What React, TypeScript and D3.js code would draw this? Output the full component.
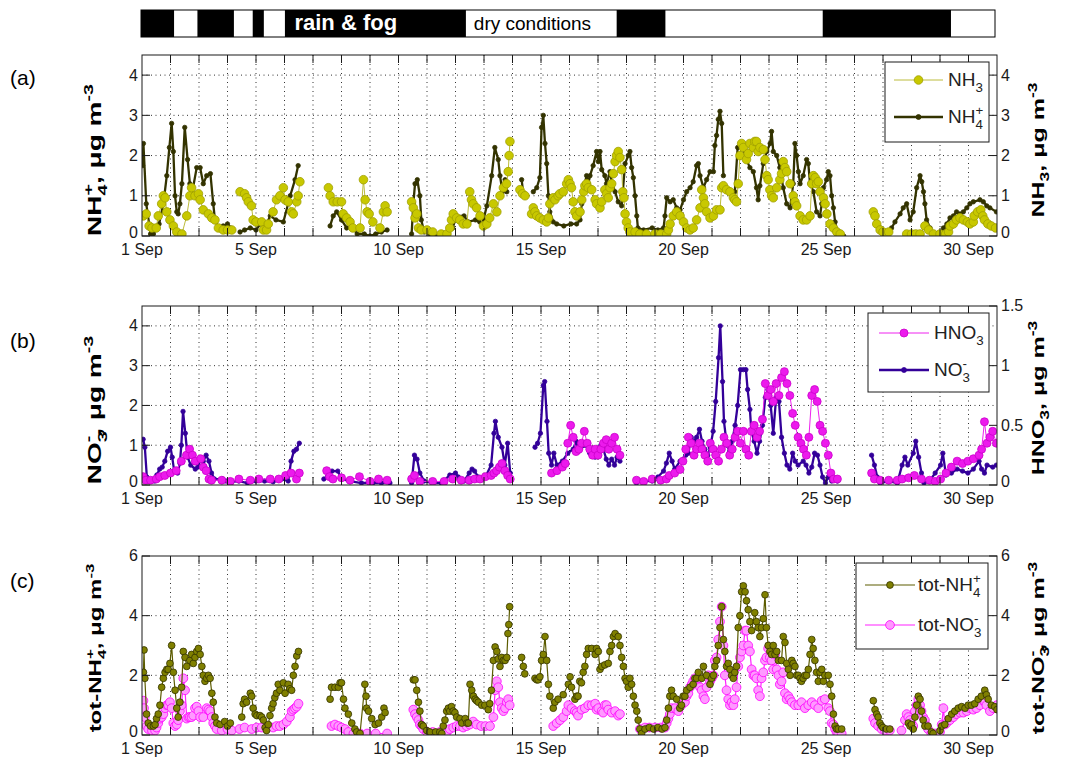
import { useEffect, useRef } from 'react';
import * as d3 from 'd3';

type Pt = [number, number];
type Part = [string, string];

// days since 1 Sep 00:00
const dayTicks = [0, 4, 9, 14, 19, 24, 29];
const dayLabels = ['1 Sep', '5 Sep', '10 Sep', '15 Sep', '20 Sep', '25 Sep', '30 Sep'];

// weather bar: black (rain & fog) periods, days
const wetPeriods: Pt[] = [[0, 1.16], [1.98, 3.26], [3.92, 4.31], [5.05, 11.4], [16.69, 18.4], [23.92, 28.42]];
const barLabels: [string, number, boolean][] = [['rain & fog', 7.15, true], ['dry conditions', 13.7, false]];

// panel (a)
const nh4: Pt[] = [[0.02,1.75],[0.05,2.3],[0.15,0.8],[0.3,0.05],[0.4,0.05],[0.6,0.3],[0.75,0.8],[0.87,1.5],[0.96,2.2],[1.04,2.8],[1.1,2.1],[1.16,1.0],[1.22,0.6],[1.27,0.55],[1.33,0.8],[1.4,1.3],[1.5,2.7],[1.6,1.9],[1.68,1.3],[1.74,1.0],[1.92,1.7],[2.04,1.7],[2.15,1.3],[2.27,1.5],[2.4,1.55],[2.5,0.8],[2.56,0.4],[2.68,0.2],[2.85,0.25],[3.0,0.3],[3.1,0.2],[3.28,NaN],[3.44,0.1],[3.6,0.15],[3.8,0.2],[4.0,0.15],[4.15,0.3],[4.3,0.2],[4.5,0.5],[4.7,0.4],[4.96,0.35],[5.2,1.0],[5.37,1.4],[5.48,1.75],[6.0,NaN],[6.6,0.25],[6.71,0.5],[6.83,0.6],[7.0,0.4],[7.18,0.2],[7.4,0.2],[7.55,0.05],[7.8,0.05],[8.0,0.0],[8.2,0.05],[8.4,0.1],[8.6,0.15],[9.0,NaN],[9.46,0.05],[9.52,0.8],[9.58,1.3],[9.66,1.4],[9.75,1.0],[9.8,0.4],[9.9,0.1],[10.1,0.05],[10.4,0.0],[10.7,0.05],[10.9,0.2],[11.04,0.5],[11.3,0.5],[11.45,0.35],[11.7,0.4],[11.85,0.35],[11.98,0.4],[12.1,0.75],[12.27,1.5],[12.38,2.2],[12.5,1.9],[12.56,1.5],[12.65,1.1],[12.74,1.4],[12.8,1.1],[13.0,NaN],[13.32,1.4],[13.38,1.05],[13.5,NaN],[13.73,1.1],[13.85,1.2],[13.96,1.45],[14.02,2.7],[14.08,3.0],[14.14,2.3],[14.2,1.8],[14.26,1.0],[14.31,0.6],[14.43,0.35],[14.55,0.3],[14.8,0.25],[15.05,0.3],[15.25,0.3],[15.37,0.4],[15.43,0.8],[15.5,1.2],[15.6,1.5],[15.66,1.3],[15.72,1.5],[15.83,1.75],[15.95,2.1],[16.01,1.85],[16.07,2.1],[16.13,1.65],[16.24,1.5],[16.3,1.3],[16.42,1.6],[16.48,1.35],[16.6,1.1],[16.71,0.85],[16.83,0.75],[16.95,1.8],[17.06,2.0],[17.12,2.1],[17.18,1.7],[17.24,1.45],[17.3,1.0],[17.36,0.5],[17.4,0.2],[17.6,0.15],[17.9,0.2],[18.1,0.15],[18.3,0.2],[18.35,0.5],[18.41,0.95],[18.53,0.85],[18.64,0.9],[18.76,0.7],[18.88,0.65],[19.0,0.9],[19.11,1.1],[19.23,1.2],[19.34,1.35],[19.46,1.75],[19.52,1.8],[19.58,1.5],[19.7,1.2],[19.81,1.4],[19.93,1.6],[20.05,1.6],[20.1,2.25],[20.16,2.5],[20.22,2.9],[20.28,3.1],[20.34,2.8],[20.4,1.5],[20.6,NaN],[20.8,1.1],[20.9,2.2],[21.04,2.3],[21.21,1.9],[21.33,1.7],[21.45,1.6],[21.56,1.2],[21.62,0.9],[21.68,1.25],[21.8,1.8],[21.92,2.1],[22.04,2.3],[22.09,2.6],[22.15,2.1],[22.27,2.0],[22.38,1.7],[22.5,1.2],[22.62,0.8],[22.74,0.7],[22.85,1.3],[22.91,2.3],[22.97,2.0],[23.03,1.6],[23.09,1.3],[23.2,1.5],[23.32,1.9],[23.38,1.8],[23.44,1.3],[23.56,1.1],[23.67,0.6],[23.79,0.5],[23.85,0.8],[23.91,1.2],[24.02,1.4],[24.08,1.6],[24.14,1.5],[24.2,1.0],[24.26,0.7],[24.32,0.35],[24.38,0.15],[24.5,0.05],[24.62,0.0],[25.0,NaN],[25.66,0.5],[25.78,0.35],[25.9,0.2],[26.0,0.1],[26.2,0.1],[26.3,0.2],[26.42,0.35],[26.6,0.55],[26.71,0.7],[26.83,0.8],[26.95,0.4],[27.06,0.6],[27.18,1.2],[27.3,1.5],[27.36,1.35],[27.42,1.1],[27.47,0.8],[27.53,0.4],[27.65,0.2],[27.8,NaN],[28.0,0.05],[28.12,0.2],[28.24,0.3],[28.35,0.45],[28.47,0.5],[28.58,0.6],[28.7,0.55],[28.82,0.6],[28.94,0.7],[29.05,0.8],[29.17,0.85],[29.4,0.9],[29.52,0.85],[29.64,0.75],[29.75,0.7],[29.98,0.6]];

const nh3: Pt[] = [[0.05,0.5],[0.15,0.55],[0.25,0.25],[0.35,0.2],[0.5,0.2],[0.57,0.5],[0.69,0.8],[0.75,1.0],[0.81,0.95],[0.87,0.6],[0.98,0.4],[1.1,0.25],[1.22,0.1],[1.4,0.05],[1.57,0.5],[1.68,1.0],[1.74,1.2],[1.86,1.0],[1.98,1.05],[2.04,0.9],[2.15,0.65],[2.33,0.55],[2.45,0.45],[2.56,0.4],[2.68,0.2],[2.85,0.15],[3.0,0.15],[3.15,0.15],[3.3,NaN],[3.44,1.1],[3.6,1.05],[3.67,0.95],[3.73,0.85],[3.84,0.75],[3.9,0.4],[4.0,0.35],[4.2,0.35],[4.26,0.15],[4.37,0.15],[4.43,0.3],[4.6,0.6],[4.72,0.9],[4.84,1.0],[4.96,1.2],[5.02,0.9],[5.13,0.85],[5.25,0.6],[5.31,0.55],[5.43,0.85],[5.48,1.0],[5.54,1.35],[6.0,NaN],[6.54,1.2],[6.6,1.0],[6.71,0.85],[6.85,0.85],[7.0,0.85],[7.06,0.55],[7.18,0.45],[7.3,0.35],[7.4,0.2],[7.65,0.2],[7.77,1.4],[7.83,0.9],[7.9,0.6],[7.97,0.55],[8.1,0.35],[8.35,0.2],[8.47,0.6],[8.53,0.75],[8.6,0.6],[9.0,NaN],[9.46,0.85],[9.52,0.7],[9.58,0.45],[9.64,0.55],[9.7,0.2],[9.8,0.15],[10.0,0.15],[10.2,0.1],[10.5,0.05],[10.7,0.05],[10.8,0.2],[10.86,0.4],[10.92,0.55],[11.04,0.45],[11.15,0.4],[11.27,0.3],[11.4,0.3],[11.5,1.1],[11.56,0.9],[11.62,0.8],[11.74,0.7],[11.86,0.5],[11.98,0.25],[12.1,0.3],[12.2,0.45],[12.33,0.8],[12.45,0.6],[12.56,1.0],[12.68,1.2],[12.79,1.3],[12.85,1.6],[12.88,2.0],[12.91,2.35],[13.1,NaN],[13.26,1.15],[13.35,1.05],[13.44,1.0],[13.55,NaN],[13.67,0.55],[13.73,0.7],[13.79,0.6],[13.85,0.5],[13.96,0.45],[14.08,0.4],[14.2,0.35],[14.26,0.45],[14.31,0.8],[14.43,0.95],[14.49,0.9],[14.6,1.0],[14.66,1.05],[14.78,1.1],[14.9,1.3],[14.96,1.4],[15.02,1.3],[15.07,1.2],[15.13,0.85],[15.19,0.6],[15.25,0.5],[15.37,0.6],[15.43,0.9],[15.5,1.1],[15.54,1.25],[15.6,1.3],[15.66,1.2],[15.78,1.15],[15.9,0.9],[15.95,0.8],[16.07,0.7],[16.13,0.85],[16.24,1.15],[16.3,1.05],[16.36,0.95],[16.42,1.2],[16.48,1.3],[16.54,1.55],[16.6,1.85],[16.65,2.0],[16.71,2.1],[16.77,1.95],[16.83,1.65],[16.87,1.1],[16.91,0.95],[16.95,0.55],[17.0,0.35],[17.06,0.2],[17.12,0.1],[17.3,0.1],[17.47,0.05],[17.7,0.05],[18.0,0.05],[18.2,0.05],[18.41,0.05],[18.47,0.15],[18.53,0.3],[18.64,0.5],[18.76,0.6],[18.88,0.5],[19.0,0.35],[19.11,0.2],[19.23,0.15],[19.34,0.2],[19.46,0.4],[19.58,0.7],[19.64,1.15],[19.7,0.95],[19.75,0.8],[19.81,0.6],[19.93,0.45],[20.05,0.5],[20.16,0.65],[20.28,0.65],[20.34,1.2],[20.4,1.25],[20.51,1.15],[20.63,1.1],[20.75,0.95],[20.8,0.9],[20.86,0.85],[20.92,1.3],[20.98,2.0],[21.04,2.3],[21.1,2.2],[21.21,1.9],[21.27,2.05],[21.33,2.3],[21.45,2.2],[21.5,2.35],[21.56,2.35],[21.62,2.1],[21.68,2.2],[21.8,2.15],[21.86,1.9],[21.92,1.5],[21.97,1.4],[22.03,1.15],[22.09,1.0],[22.15,0.95],[22.27,1.2],[22.38,1.4],[22.44,1.55],[22.5,1.85],[22.56,1.7],[22.62,1.6],[22.74,1.3],[22.85,1.0],[22.91,0.85],[22.97,0.75],[23.09,0.5],[23.2,0.4],[23.32,0.4],[23.44,0.5],[23.5,1.3],[23.56,1.5],[23.62,1.45],[23.67,1.3],[23.73,1.35],[23.79,1.1],[23.91,0.95],[23.97,0.8],[24.03,0.55],[24.14,0.3],[24.26,0.2],[24.38,0.1],[24.5,0.05],[25.0,NaN],[25.66,0.6],[25.72,0.5],[25.78,0.3],[25.9,0.15],[26.0,0.1],[26.2,0.1],[26.4,NaN],[26.83,0.05],[27.0,0.05],[27.15,0.05],[27.3,0.05],[27.47,0.25],[27.6,0.15],[27.77,0.05],[27.9,NaN],[28.0,0.05],[28.2,0.05],[28.3,0.1],[28.35,0.25],[28.47,0.3],[28.58,0.4],[28.7,0.45],[28.82,0.4],[28.96,0.35],[29.05,0.3],[29.17,0.35],[29.2,0.5],[29.32,0.6],[29.43,0.65],[29.5,0.5],[29.56,0.4],[29.68,0.3],[29.8,0.25],[29.95,0.2]];

// panel (b)
const no3: Pt[] = [[0.04,1.15],[0.1,0.95],[0.17,0.2],[0.3,0.1],[0.45,0.1],[0.52,0.25],[0.62,0.4],[0.71,0.45],[0.8,0.6],[0.9,0.85],[1.0,0.95],[1.06,0.7],[1.13,0.35],[1.25,0.3],[1.33,0.55],[1.38,1.0],[1.44,1.85],[1.52,1.3],[1.6,0.7],[1.71,0.5],[1.87,0.4],[1.96,0.45],[2.06,0.65],[2.15,0.6],[2.25,0.75],[2.35,0.6],[2.44,0.3],[2.54,0.15],[2.83,0.15],[2.95,0.1],[3.15,0.08],[3.4,0.1],[3.7,0.05],[4.0,0.1],[4.3,0.1],[4.6,0.08],[4.9,0.15],[5.13,0.1],[5.23,0.6],[5.33,0.85],[5.42,0.9],[5.52,1.05],[6.0,NaN],[6.38,0.15],[6.5,0.2],[6.67,0.35],[6.87,0.35],[7.0,0.15],[7.3,0.1],[7.7,0.05],[8.1,0.05],[8.4,0.05],[8.7,0.05],[9.0,NaN],[9.46,0.05],[9.56,0.75],[9.65,0.65],[9.75,0.3],[9.9,0.1],[10.2,0.05],[10.5,0.05],[10.8,0.25],[11.0,0.3],[11.1,0.2],[11.3,0.1],[11.48,0.3],[11.58,0.4],[11.67,0.35],[11.8,0.2],[12.05,0.2],[12.25,0.5],[12.35,1.3],[12.4,1.6],[12.5,1.2],[12.63,0.95],[12.73,0.5],[12.83,1.05],[12.92,0.3],[13.2,NaN],[13.79,0.95],[13.88,1.05],[13.98,1.3],[14.08,2.5],[14.13,2.6],[14.21,1.6],[14.27,0.8],[14.37,0.5],[14.45,0.8],[14.56,0.5],[14.75,0.6],[14.94,0.8],[15.13,0.9],[15.23,1.1],[15.33,0.85],[15.52,1.0],[15.6,1.0],[15.71,0.8],[15.9,0.7],[16.1,1.0],[16.19,0.9],[16.29,0.65],[16.38,0.5],[16.48,0.65],[16.58,0.5],[16.67,0.7],[16.77,0.6],[17.1,NaN],[17.35,0.05],[17.6,0.1],[17.9,0.1],[18.0,0.15],[18.1,0.2],[18.3,0.35],[18.4,0.55],[18.5,0.8],[18.6,0.6],[18.69,0.4],[18.88,0.6],[19.08,0.75],[19.17,0.8],[19.27,1.2],[19.37,1.1],[19.46,1.2],[19.56,1.4],[19.65,1.1],[19.75,0.9],[19.85,0.75],[19.94,0.95],[20.04,1.35],[20.13,2.1],[20.23,3.2],[20.29,4.0],[20.37,2.6],[20.42,1.6],[20.52,1.0],[20.62,0.85],[20.71,1.1],[20.81,1.5],[20.9,2.0],[21.0,2.9],[21.1,2.9],[21.19,2.9],[21.25,2.4],[21.33,1.9],[21.38,1.35],[21.48,1.1],[21.58,0.8],[21.67,1.1],[21.77,1.5],[21.87,2.2],[21.96,2.4],[22.06,2.0],[22.15,1.3],[22.25,2.2],[22.35,2.1],[22.44,1.2],[22.54,0.8],[22.63,0.5],[22.73,0.4],[22.83,0.8],[22.92,0.6],[23.02,0.5],[23.2,0.6],[23.3,0.5],[23.4,0.3],[23.5,0.45],[23.6,0.8],[23.7,0.75],[23.79,0.5],[23.88,0.2],[23.98,0.05],[24.08,0.2],[24.2,0.1],[24.4,0.1],[25.0,NaN],[25.6,0.75],[25.7,0.5],[25.8,0.2],[25.9,0.05],[26.2,0.1],[26.5,0.05],[26.67,0.5],[26.77,0.7],[26.87,0.5],[27.06,0.8],[27.15,1.1],[27.25,0.7],[27.35,0.3],[27.44,0.05],[27.63,0.1],[27.83,0.3],[28.02,0.5],[28.1,0.8],[28.21,0.25],[28.4,0.3],[28.6,0.4],[28.79,0.35],[28.98,0.3],[29.17,0.4],[29.37,0.6],[29.46,0.4],[29.56,0.3],[29.65,0.5],[29.85,0.45],[29.98,0.5]];

const hno3: Pt[] = [[0.04,0.07],[0.13,0.04],[0.3,0.04],[0.5,0.05],[0.62,0.07],[0.8,0.08],[1.0,0.1],[1.2,0.12],[1.38,0.2],[1.56,0.25],[1.67,0.3],[1.77,0.25],[1.87,0.2],[2.06,0.22],[2.15,0.15],[2.25,0.12],[2.35,0.05],[2.44,0.04],[2.8,0.04],[3.1,0.03],[3.4,0.05],[3.8,0.04],[4.1,0.05],[4.5,0.05],[4.8,0.05],[5.04,0.08],[5.23,0.1],[5.42,0.05],[5.52,0.1],[6.0,NaN],[6.48,0.12],[6.58,0.07],[6.7,0.05],[7.0,0.06],[7.3,0.04],[7.63,0.07],[8.0,0.03],[8.3,0.05],[8.6,0.04],[9.0,NaN],[9.46,0.05],[9.56,0.08],[9.75,0.03],[10.2,0.03],[10.6,0.03],[10.9,0.05],[11.2,0.04],[11.48,0.04],[11.67,0.05],[11.86,0.05],[12.05,0.07],[12.25,0.08],[12.35,0.1],[12.44,0.12],[12.54,0.15],[12.63,0.18],[12.73,0.12],[12.83,0.08],[12.92,0.05],[13.2,NaN],[14.37,0.1],[14.56,0.12],[14.75,0.15],[14.85,0.18],[14.94,0.35],[15.04,0.5],[15.13,0.4],[15.23,0.28],[15.33,0.3],[15.42,0.35],[15.52,0.45],[15.62,0.35],[15.71,0.3],[15.81,0.25],[15.9,0.3],[16.0,0.25],[16.1,0.3],[16.19,0.35],[16.29,0.38],[16.38,0.3],[16.48,0.35],[16.58,0.4],[16.67,0.3],[16.77,0.25],[17.1,NaN],[17.35,0.04],[17.6,0.03],[17.9,0.05],[18.2,0.04],[18.4,0.05],[18.5,0.08],[18.69,0.1],[18.88,0.13],[18.98,0.2],[19.08,0.3],[19.17,0.4],[19.27,0.35],[19.37,0.25],[19.46,0.3],[19.56,0.35],[19.65,0.3],[19.75,0.25],[19.85,0.2],[19.94,0.35],[20.04,0.3],[20.13,0.25],[20.23,0.2],[20.33,0.3],[20.42,0.4],[20.52,0.35],[20.62,0.25],[20.71,0.3],[20.81,0.4],[20.9,0.45],[21.0,0.35],[21.1,0.45],[21.19,0.3],[21.29,0.25],[21.38,0.45],[21.48,0.5],[21.58,0.4],[21.67,0.45],[21.77,0.55],[21.87,0.85],[21.96,0.75],[22.06,0.8],[22.15,0.7],[22.25,0.85],[22.35,0.75],[22.44,0.9],[22.54,0.95],[22.63,0.85],[22.73,0.75],[22.83,0.6],[22.92,0.5],[23.02,0.4],[23.12,0.35],[23.21,0.3],[23.31,0.25],[23.4,0.4],[23.5,0.75],[23.6,0.8],[23.69,0.7],[23.79,0.5],[23.88,0.45],[23.98,0.35],[24.08,0.25],[24.17,0.1],[24.27,0.05],[24.4,0.05],[25.0,NaN],[25.6,0.1],[25.7,0.05],[25.9,0.04],[26.2,0.04],[26.5,0.04],[26.67,0.05],[26.9,0.06],[27.1,0.08],[27.35,0.05],[27.63,0.04],[27.83,0.03],[28.02,0.05],[28.21,0.1],[28.4,0.15],[28.6,0.2],[28.79,0.18],[28.98,0.2],[29.17,0.22],[29.37,0.25],[29.46,0.3],[29.56,0.53],[29.65,0.35],[29.75,0.4],[29.85,0.45],[29.98,0.35]];

// panel (c)
const totNh4: Pt[] = [[0.05,2.1],[0.07,2.85],[0.1,1.9],[0.16,0.7],[0.22,0.4],[0.3,0.3],[0.4,0.3],[0.46,0.35],[0.51,0.55],[0.57,0.7],[0.63,1.0],[0.69,1.6],[0.75,1.9],[0.81,2.1],[0.87,2.2],[0.92,2.2],[0.98,2.4],[1.04,3.0],[1.1,2.1],[1.16,1.5],[1.22,0.9],[1.27,0.6],[1.33,1.1],[1.39,1.6],[1.45,2.8],[1.51,2.6],[1.57,2.3],[1.68,2.5],[1.74,2.7],[1.8,2.4],[1.86,2.6],[1.92,2.8],[1.98,2.9],[2.04,2.7],[2.1,2.3],[2.15,2.0],[2.21,1.8],[2.27,1.9],[2.33,2.0],[2.39,1.9],[2.45,1.4],[2.5,1.1],[2.56,0.6],[2.62,0.4],[2.74,0.35],[2.9,0.45],[3.0,0.3],[3.1,0.4],[3.3,NaN],[3.5,0.6],[3.55,1.05],[3.6,1.2],[3.67,1.1],[3.8,1.4],[3.85,1.3],[3.9,0.9],[3.97,0.7],[4.03,0.65],[4.14,0.65],[4.2,0.6],[4.26,0.5],[4.32,0.25],[4.37,0.15],[4.43,0.35],[4.49,0.65],[4.55,0.9],[4.6,1.05],[4.66,1.25],[4.72,1.4],[4.78,1.7],[4.84,1.5],[4.96,1.75],[5.02,1.4],[5.13,1.7],[5.19,1.55],[5.25,1.5],[5.31,2.0],[5.37,2.3],[5.43,2.65],[5.49,2.8],[6.0,NaN],[6.6,1.2],[6.65,1.6],[6.77,1.6],[6.89,1.6],[6.95,1.75],[7.0,1.75],[7.07,1.2],[7.12,0.9],[7.24,0.7],[7.36,0.4],[7.47,0.2],[7.53,0.1],[7.65,0.05],[7.82,1.7],[7.86,1.3],[7.88,0.9],[7.95,0.8],[8.06,0.55],[8.18,0.35],[8.3,0.4],[8.41,0.6],[8.49,0.9],[8.53,0.75],[9.0,NaN],[9.52,1.85],[9.58,1.85],[9.64,1.5],[9.7,1.1],[9.75,0.8],[9.81,0.35],[9.87,0.3],[9.99,0.15],[10.1,0.1],[10.3,0.1],[10.45,0.1],[10.52,0.05],[10.57,0.3],[10.63,0.5],[10.69,0.8],[10.75,0.9],[10.8,0.8],[10.86,0.95],[10.92,0.8],[10.98,0.75],[11.04,0.6],[11.16,0.55],[11.22,0.4],[11.34,0.55],[11.4,0.4],[11.45,0.4],[11.51,1.7],[11.57,1.5],[11.63,1.3],[11.69,1.2],[11.74,1.15],[11.8,1.1],[11.92,1.0],[12.03,1.0],[12.15,0.85],[12.2,1.05],[12.26,1.5],[12.33,2.5],[12.39,2.95],[12.45,2.8],[12.5,2.55],[12.56,2.3],[12.62,2.6],[12.68,2.5],[12.74,2.5],[12.8,2.6],[12.84,3.4],[12.87,3.7],[12.9,4.3],[13.1,NaN],[13.32,2.6],[13.38,2.3],[13.43,2.05],[13.6,NaN],[13.79,1.9],[13.85,1.85],[13.9,1.85],[13.96,1.95],[14.02,2.5],[14.08,2.7],[14.14,3.3],[14.2,2.5],[14.26,1.7],[14.31,1.3],[14.43,0.9],[14.49,1.1],[14.6,1.2],[14.78,1.35],[14.96,1.7],[15.02,1.95],[15.07,1.6],[15.19,1.2],[15.25,1.3],[15.3,1.3],[15.36,1.8],[15.42,1.75],[15.48,2.1],[15.54,2.3],[15.6,2.7],[15.66,2.9],[15.78,2.9],[15.9,2.7],[15.95,2.9],[16.01,2.8],[16.07,2.2],[16.13,2.3],[16.24,2.35],[16.36,2.4],[16.42,2.8],[16.48,3.0],[16.54,3.3],[16.6,3.4],[16.71,3.3],[16.77,3.0],[16.83,2.6],[16.89,2.3],[16.95,1.9],[17.0,1.8],[17.06,1.6],[17.12,1.9],[17.18,1.7],[17.24,1.3],[17.3,1.0],[17.36,0.8],[17.41,0.5],[17.47,0.2],[17.53,0.05],[17.65,0.2],[17.8,0.25],[17.95,0.2],[18.1,0.25],[18.25,0.2],[18.35,0.25],[18.41,0.5],[18.47,0.9],[18.52,1.3],[18.58,1.5],[18.64,1.3],[18.76,1.2],[18.87,0.9],[18.93,1.0],[18.99,1.3],[19.05,1.3],[19.11,1.5],[19.23,1.6],[19.34,1.7],[19.4,1.9],[19.46,1.9],[19.52,2.1],[19.64,1.9],[19.7,2.3],[19.81,2.0],[19.93,1.7],[19.99,1.9],[20.05,2.0],[20.1,2.3],[20.16,2.5],[20.22,3.0],[20.28,3.6],[20.34,4.3],[20.4,3.2],[20.45,2.8],[20.51,2.3],[20.57,2.4],[20.63,2.2],[20.69,2.0],[20.75,1.9],[20.8,2.1],[20.86,2.3],[20.92,3.6],[20.98,4.0],[21.04,4.8],[21.1,5.0],[21.16,4.8],[21.21,4.5],[21.27,4.2],[21.33,3.8],[21.39,3.5],[21.5,4.1],[21.56,3.8],[21.62,3.6],[21.68,3.3],[21.74,3.6],[21.8,3.9],[21.86,4.7],[21.91,3.6],[21.97,3.0],[22.03,2.8],[22.09,2.7],[22.15,3.0],[22.21,2.7],[22.27,2.8],[22.33,2.5],[22.44,2.5],[22.5,3.3],[22.56,3.1],[22.62,2.4],[22.68,2.2],[22.74,2.0],[22.8,2.5],[22.85,2.4],[22.91,2.3],[22.97,2.0],[23.03,2.0],[23.09,1.9],[23.14,1.8],[23.2,1.9],[23.26,2.0],[23.32,2.0],[23.38,2.2],[23.44,2.7],[23.5,3.2],[23.55,2.9],[23.61,2.5],[23.67,2.1],[23.73,1.8],[23.79,2.1],[23.85,2.2],[23.91,1.8],[23.96,2.0],[24.08,2.0],[24.14,1.7],[24.2,1.3],[24.26,0.7],[24.32,0.3],[24.37,0.2],[24.43,0.2],[24.55,0.2],[25.0,NaN],[25.66,1.15],[25.72,0.85],[25.78,0.7],[25.83,0.6],[25.89,0.4],[25.95,0.3],[26.0,0.25],[26.12,0.2],[26.24,0.2],[26.5,NaN],[26.89,0.4],[26.95,0.3],[27.0,0.35],[27.06,0.2],[27.12,0.6],[27.18,1.0],[27.24,1.3],[27.3,1.2],[27.35,0.8],[27.41,0.5],[27.47,0.3],[27.58,0.3],[27.7,0.1],[27.76,0.05],[27.9,NaN],[28.0,0.15],[28.06,0.3],[28.17,0.35],[28.29,0.55],[28.41,0.7],[28.52,0.8],[28.64,0.9],[28.76,0.95],[28.88,0.9],[28.99,1.0],[29.1,1.0],[29.22,1.05],[29.34,1.2],[29.45,1.3],[29.57,1.5],[29.63,1.35],[29.69,1.2],[29.8,1.0],[29.92,0.95],[30.0,0.85]];

const totNo3: Pt[] = [[0.05,1.15],[0.07,0.9],[0.1,0.6],[0.16,0.3],[0.22,0.2],[0.35,0.15],[0.46,0.15],[0.51,0.25],[0.57,0.4],[0.63,0.55],[0.69,0.6],[0.75,0.7],[0.81,0.9],[0.87,1.0],[0.92,1.0],[0.98,1.1],[1.04,0.9],[1.1,0.4],[1.16,0.3],[1.22,0.35],[1.27,0.5],[1.33,0.8],[1.39,1.0],[1.45,1.9],[1.51,1.5],[1.57,0.55],[1.63,0.6],[1.68,0.6],[1.74,0.6],[1.8,0.65],[1.86,0.9],[1.92,0.95],[1.98,0.8],[2.04,0.6],[2.15,0.6],[2.27,0.9],[2.33,0.85],[2.39,0.8],[2.45,0.6],[2.5,0.4],[2.56,0.3],[2.62,0.2],[2.8,0.15],[3.0,0.2],[3.15,0.15],[3.3,NaN],[3.42,0.2],[3.6,0.25],[3.85,0.2],[4.02,0.25],[4.2,0.25],[4.4,0.25],[4.6,0.25],[4.72,0.3],[4.84,0.3],[4.96,0.35],[5.08,0.45],[5.19,0.6],[5.25,0.8],[5.31,0.85],[5.37,0.9],[5.43,0.95],[5.49,1.05],[6.0,NaN],[6.65,0.3],[6.77,0.35],[6.89,0.3],[7.0,0.25],[7.12,0.2],[7.24,0.1],[7.42,0.05],[7.65,0.05],[7.9,0.05],[8.2,0.05],[8.6,0.05],[9.0,NaN],[9.52,0.85],[9.58,0.7],[9.64,0.6],[9.7,0.5],[9.75,0.35],[9.81,0.3],[9.87,0.2],[10.0,0.1],[10.2,0.1],[10.45,0.1],[10.57,0.1],[10.69,0.1],[10.8,0.2],[10.92,0.25],[11.04,0.3],[11.16,0.3],[11.27,0.25],[11.39,0.3],[11.5,0.35],[11.62,0.45],[11.74,0.35],[11.9,0.3],[12.05,0.3],[12.21,0.3],[12.33,0.6],[12.39,1.5],[12.45,1.8],[12.5,1.6],[12.56,1.1],[12.62,0.9],[12.68,0.8],[12.74,0.9],[12.8,1.1],[12.85,1.2],[12.9,1.0],[13.1,NaN],[14.43,0.3],[14.55,0.4],[14.67,0.5],[14.78,0.6],[14.9,0.8],[14.96,1.0],[15.07,0.9],[15.19,0.8],[15.25,0.75],[15.3,0.65],[15.42,0.85],[15.54,0.9],[15.66,1.0],[15.78,1.0],[15.9,1.05],[15.95,0.85],[16.01,0.9],[16.13,0.8],[16.18,0.75],[16.24,1.0],[16.3,1.0],[16.36,0.85],[16.48,0.75],[16.6,0.8],[16.71,0.65],[16.77,0.7],[17.1,NaN],[17.47,0.2],[17.65,0.25],[17.8,0.25],[18.0,0.25],[18.2,0.25],[18.35,0.25],[18.41,0.4],[18.47,0.55],[18.52,0.7],[18.58,0.9],[18.7,0.9],[18.82,0.8],[18.93,1.0],[19.05,1.1],[19.11,1.3],[19.17,1.4],[19.23,1.6],[19.29,1.7],[19.34,1.8],[19.4,1.9],[19.46,1.75],[19.52,1.9],[19.58,1.6],[19.64,1.5],[19.7,1.3],[19.75,1.2],[19.81,1.6],[19.87,2.0],[19.93,1.8],[19.99,1.9],[20.05,2.0],[20.1,2.5],[20.16,2.6],[20.22,3.2],[20.28,3.8],[20.34,4.3],[20.4,3.0],[20.45,2.0],[20.51,1.5],[20.57,1.2],[20.63,1.0],[20.69,1.1],[20.75,1.0],[20.8,1.2],[20.86,1.6],[20.92,2.3],[20.98,2.6],[21.04,2.8],[21.1,3.0],[21.16,3.5],[21.21,3.5],[21.27,3.0],[21.33,2.8],[21.39,2.2],[21.45,2.0],[21.5,2.0],[21.56,1.9],[21.62,1.5],[21.68,1.3],[21.74,1.9],[21.8,2.1],[21.86,2.5],[21.91,2.6],[21.97,2.9],[22.03,2.6],[22.09,2.5],[22.15,2.2],[22.21,2.7],[22.27,2.2],[22.33,2.0],[22.38,1.7],[22.44,1.8],[22.5,2.1],[22.56,1.4],[22.62,1.2],[22.68,1.3],[22.74,1.2],[22.8,1.1],[22.91,1.0],[23.03,1.0],[23.14,1.1],[23.26,0.9],[23.38,1.0],[23.5,1.1],[23.61,1.0],[23.73,0.9],[23.85,1.15],[23.96,1.2],[24.08,0.9],[24.14,0.8],[24.2,0.4],[24.26,0.35],[24.32,0.2],[24.37,0.1],[24.43,0.05],[24.55,0.05],[25.0,NaN],[25.66,0.55],[25.72,0.4],[25.83,0.3],[25.95,0.2],[26.07,0.15],[26.24,0.15],[26.4,NaN],[26.65,0.15],[26.77,0.5],[26.83,0.7],[26.89,0.6],[26.95,0.5],[27.0,0.4],[27.06,0.3],[27.12,0.8],[27.18,1.0],[27.24,1.2],[27.3,1.0],[27.35,0.8],[27.41,0.6],[27.47,0.5],[27.53,0.3],[27.58,0.2],[27.7,0.05],[27.82,0.05],[27.9,NaN],[28.0,0.1],[28.06,0.35],[28.12,0.9],[28.17,0.35],[28.23,0.4],[28.35,0.5],[28.47,0.6],[28.58,0.7],[28.7,0.75],[28.82,0.75],[28.94,0.8],[29.05,0.9],[29.17,0.85],[29.28,0.9],[29.4,1.0],[29.52,1.15],[29.58,1.1],[29.63,1.0],[29.75,0.8],[29.87,0.9],[29.99,1.0]];

const FONT = '"Liberation Sans", Arial, Helvetica, sans-serif';

interface Style { line: string; lw: number; fill: string; stroke: string; r: number; lr: number; }
const sNh3: Style = { line: '#bcbc3c', lw: 1, fill: '#c8c800', stroke: '#a0a000', r: 4.3, lr: 4.3 };
const sNh4: Style = { line: '#333300', lw: 2.3, fill: '#333300', stroke: '#333300', r: 2.2, lr: 2.5 };
const sHno3: Style = { line: '#ee22ee', lw: 1, fill: '#ec1aec', stroke: '#cc00cc', r: 4, lr: 4 };
const sNo3: Style = { line: '#330099', lw: 2.3, fill: '#330099', stroke: '#330099', r: 2.2, lr: 2.5 };
const sTotNh4: Style = { line: '#5c5c00', lw: 1.2, fill: '#808000', stroke: '#333300', r: 3.4, lr: 3.4 };
const sTotNo3: Style = { line: '#ff22ff', lw: 1.2, fill: '#ff99ff', stroke: '#ff00ff', r: 4.4, lr: 4.4 };

// rich text: n normal, b subscript, p superscript, s stacked sub|sup
function rich(t: d3.Selection<SVGTextElement, unknown, null, undefined>, parts: Part[], fs: number) {
  let shift = 0;
  parts.forEach(([s, k]) => {
    if (k === 'n') {
      t.append('tspan').attr('dy', -shift).attr('font-size', fs).text(s);
      shift = 0;
    } else if (k === 'b') {
      t.append('tspan').attr('dy', 0.32 * fs - shift).attr('font-size', fs * 0.7).text(s);
      shift = 0.32 * fs;
    } else if (k === 'p') {
      t.append('tspan').attr('dy', -0.42 * fs - shift).attr('font-size', fs * 0.7).text(s);
      shift = -0.42 * fs;
    } else {
      const [a, b] = s.split('|');
      const sub = t.append('tspan').attr('dy', 0.32 * fs - shift).attr('font-size', fs * 0.7).text(a);
      const w = (sub.node() as SVGTextContentElement).getComputedTextLength();
      t.append('tspan').attr('dx', -w).attr('dy', -0.74 * fs).attr('font-size', fs * 0.7).text(b);
      shift = -0.42 * fs;
    }
  });
}

const panels = [
  {
    tag: '(a)', tagY: 85, top: 55, bottom: 236, lMax: 4.5, rMax: 4.5,
    lTicks: [0, 1, 2, 3, 4], rTicks: [0, 1, 2, 3, 4], grid: [1, 2, 3, 4],
    lLabel: [['NH', 'n'], ['4|+', 's'], [', μg m', 'n'], ['-3', 'p']] as Part[], lY: 160, lFs: 28,
    rLabel: [['NH', 'n'], ['3', 'b'], [', μg m', 'n'], ['-3', 'p']] as Part[], rY: 150, rFs: 25,
    left: { data: nh4, st: sNh4, name: [['NH', 'n'], ['4|+', 's']] as Part[] },
    right: { data: nh3, st: sNh3, name: [['NH', 'n'], ['3', 'b']] as Part[] },
    rightOnTop: true,
    legend: { x: 885, y: 62, w: 104, h: 80, rows: [80, 117], lx: [894, 943], tx: 948 },
  },
  {
    tag: '(b)', tagY: 348, top: 306, bottom: 485, lMax: 4.5, rMax: 1.5,
    lTicks: [0, 1, 2, 3, 4], rTicks: [0, 0.5, 1, 1.5], grid: [1, 2, 3, 4],
    lLabel: [['NO', 'n'], ['3|-', 's'], [', μg m', 'n'], ['-3', 'p']] as Part[], lY: 410, lFs: 28,
    rLabel: [['HNO', 'n'], ['3', 'b'], [', μg m', 'n'], ['-3', 'p']] as Part[], rY: 398, rFs: 25,
    left: { data: no3, st: sNo3, name: [['NO', 'n'], ['3|-', 's']] as Part[] },
    right: { data: hno3, st: sHno3, name: [['HNO', 'n'], ['3', 'b']] as Part[] },
    rightOnTop: true,
    legend: { x: 868, y: 313, w: 121, h: 79, rows: [333, 370], lx: [879, 929], tx: 934 },
  },
  {
    tag: '(c)', tagY: 588, top: 556, bottom: 735, lMax: 6, rMax: 6,
    lTicks: [0, 2, 4, 6], rTicks: [0, 2, 4, 6], grid: [2, 4],
    lLabel: [['tot-NH', 'n'], ['4|+', 's'], [', μg m', 'n'], ['-3', 'p']] as Part[], lY: 648, lFs: 24,
    rLabel: [['tot-NO', 'n'], ['3|-', 's'], [', μg m', 'n'], ['-3', 'p']] as Part[], rY: 648, rFs: 25,
    left: { data: totNh4, st: sTotNh4, name: [['tot-NH', 'n'], ['4|+', 's']] as Part[] },
    right: { data: totNo3, st: sTotNo3, name: [['tot-NO', 'n'], ['3|-', 's']] as Part[] },
    rightOnTop: false,
    legend: { x: 856, y: 563, w: 132, h: 86, rows: [585, 625], lx: [865, 915], tx: 918 },
  },
];

const App = () => {
  const svgRef = useRef<SVGSVGElement>(null);

  useEffect(() => {
    const svg = d3.select(svgRef.current);
    svg.selectAll('*').remove();

    const x = d3.scaleLinear().domain([0, 30]).range([142, 997]);
    const [x0, x1] = x.range();
    const ink = '#1a1a1a';

    // weather bar
    const bar = svg.append('g');
    bar.append('rect').attr('x', x(0) - 1).attr('y', 10).attr('width', x(30) - x(0) - 1).attr('height', 27)
      .attr('fill', '#fff').attr('stroke', '#000');
    bar.selectAll('.wet').data(wetPeriods).enter().append('rect')
      .attr('x', d => x(d[0]) - 1).attr('y', 10).attr('width', d => x(d[1]) - x(d[0])).attr('height', 27)
      .attr('fill', '#000');
    barLabels.forEach(([t, d, wet]) => {
      bar.append('text').attr('x', x(d)).attr('y', 30).attr('text-anchor', 'middle')
        .attr('font-family', FONT).attr('font-size', wet ? 22 : 19).attr('font-weight', wet ? 'bold' : 'normal')
        .attr('fill', wet ? '#fff' : '#000').text(t);
    });

    panels.forEach((p, pi) => {
      const g = svg.append('g');
      const yl = d3.scaleLinear().domain([0, p.lMax]).range([p.bottom, p.top]);
      const yr = d3.scaleLinear().domain([0, p.rMax]).range([p.bottom, p.top]);

      const clipId = `clip${pi}`;
      g.append('clipPath').attr('id', clipId).append('rect')
        .attr('x', x0).attr('y', p.top).attr('width', x1 - x0).attr('height', p.bottom - p.top);

      // grid
      const days = d3.range(1, 30);
      g.selectAll('.vg').data(days).enter().append('line')
        .attr('x1', d => x(d)).attr('x2', d => x(d)).attr('y1', p.top).attr('y2', p.bottom)
        .attr('stroke', '#333').attr('stroke-width', 1).attr('stroke-dasharray', '1,3.5');
      g.selectAll('.hg').data(p.grid).enter().append('line')
        .attr('x1', x0).attr('x2', x1).attr('y1', d => yl(d)).attr('y2', d => yl(d))
        .attr('stroke', '#333').attr('stroke-width', 1).attr('stroke-dasharray', '1,3.5');

      // series
      const drawSeries = (data: Pt[], st: Style, y: d3.ScaleLinear<number, number>) => {
        const sg = g.append('g').attr('clip-path', `url(#${clipId})`);
        const line = d3.line<Pt>().defined(d => !isNaN(d[1])).x(d => x(d[0])).y(d => y(d[1]));
        sg.append('path').attr('d', line(data)).attr('fill', 'none')
          .attr('stroke', st.line).attr('stroke-width', st.lw).attr('stroke-linejoin', 'round');
        sg.selectAll('circle').data(data.filter(d => !isNaN(d[1]))).enter().append('circle')
          .attr('cx', d => x(d[0])).attr('cy', d => y(d[1])).attr('r', st.r)
          .attr('fill', st.fill).attr('stroke', st.stroke).attr('stroke-width', 0.8);
      };
      if (p.rightOnTop) {
        drawSeries(p.left.data, p.left.st, yl);
        drawSeries(p.right.data, p.right.st, yr);
      } else {
        drawSeries(p.right.data, p.right.st, yr);
        drawSeries(p.left.data, p.left.st, yl);
      }

      // frame and ticks
      g.append('rect').attr('x', x0).attr('y', p.top).attr('width', x1 - x0).attr('height', p.bottom - p.top)
        .attr('fill', 'none').attr('stroke', ink).attr('stroke-width', 1);
      const tl = 8;
      g.selectAll('.tb').data(days).enter().append('line')
        .attr('x1', d => x(d)).attr('x2', d => x(d)).attr('y1', p.bottom).attr('y2', p.bottom - tl).attr('stroke', ink);
      g.selectAll('.tt').data(days).enter().append('line')
        .attr('x1', d => x(d)).attr('x2', d => x(d)).attr('y1', p.top).attr('y2', p.top + tl).attr('stroke', ink);
      g.selectAll('.tyl').data(p.lTicks).enter().append('line')
        .attr('x1', x0).attr('x2', x0 + tl).attr('y1', d => yl(d)).attr('y2', d => yl(d)).attr('stroke', ink);
      g.selectAll('.tyr').data(p.rTicks).enter().append('line')
        .attr('x1', x1).attr('x2', x1 - tl).attr('y1', d => yr(d)).attr('y2', d => yr(d)).attr('stroke', ink);

      // tick labels
      g.selectAll('.xl').data(dayTicks).enter().append('text')
        .attr('x', d => x(d)).attr('y', p.bottom + 19).attr('text-anchor', 'middle')
        .attr('font-family', FONT).attr('font-size', 16).attr('fill', ink)
        .text((_, i) => dayLabels[i]);
      g.selectAll('.yll').data(p.lTicks).enter().append('text')
        .attr('x', x0 - 4).attr('y', d => yl(d) - (d === 0 ? 3 : 0)).attr('dy', '0.34em').attr('text-anchor', 'end')
        .attr('font-family', FONT).attr('font-size', 16).attr('fill', ink).text(d => String(d));
      g.selectAll('.ylr').data(p.rTicks).enter().append('text')
        .attr('x', x1 + 4).attr('y', d => yr(d) - (d === 0 ? 3 : 0)).attr('dy', '0.34em').attr('text-anchor', 'start')
        .attr('font-family', FONT).attr('font-size', 16).attr('fill', ink).text(d => String(d));

      // panel tag
      g.append('text').attr('x', 10).attr('y', p.tagY).attr('font-family', FONT).attr('font-size', 21)
        .attr('fill', '#000').text(p.tag);

      // axis labels
      const ylab = (cx: number, cy: number, parts: Part[], fs: number) => {
        const t = g.append('g').attr('transform', `translate(${cx},${cy}) rotate(-90) scale(1,0.68)`)
          .append('text').attr('text-anchor', 'middle').attr('font-family', FONT)
          .attr('font-weight', 'bold').attr('fill', '#000');
        rich(t, parts, fs);
      };
      ylab(101, p.lY, p.lLabel, p.lFs);
      ylab(1044, p.rY, p.rLabel, p.rFs);

      // legend
      const L = p.legend;
      const lg = g.append('g');
      lg.append('rect').attr('x', L.x).attr('y', L.y).attr('width', L.w).attr('height', L.h)
        .attr('fill', '#fff').attr('stroke', ink);
      const entries = pi === 2 ? [p.left, p.right] : [p.right, p.left];
      entries.forEach((e, i) => {
        const cy = L.rows[i];
        lg.append('line').attr('x1', L.lx[0]).attr('x2', L.lx[1]).attr('y1', cy).attr('y2', cy)
          .attr('stroke', e.st.line).attr('stroke-width', e.st.lw);
        lg.append('circle').attr('cx', (L.lx[0] + L.lx[1]) / 2).attr('cy', cy).attr('r', e.st.lr)
          .attr('fill', e.st.fill).attr('stroke', e.st.stroke).attr('stroke-width', 0.8);
        const t = lg.append('text').attr('x', L.tx).attr('y', cy + 6).attr('font-family', FONT).attr('fill', '#222');
        rich(t, e.name, 19);
      });
    });
  }, []);

  return (
    <svg ref={svgRef} width={1070} height={762}
      style={{ position: 'absolute', left: 0, top: 0, background: '#fff' }} />
  );
};

export default App;
